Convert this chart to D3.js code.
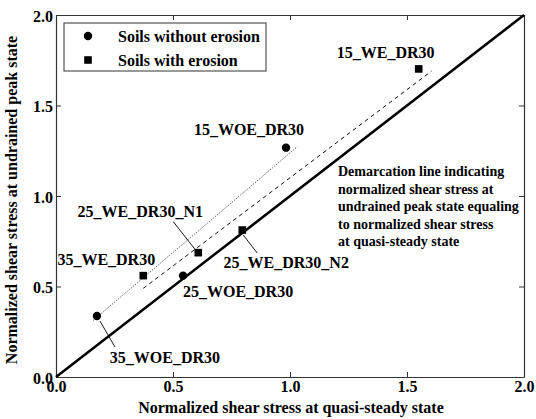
<!DOCTYPE html>
<html>
<head>
<meta charset="utf-8">
<script src="https://cdn.jsdelivr.net/npm/d3@7"></script>
<style>
  html, body { margin: 0; padding: 0; background: #fff; }
</style>
</head>
<body>
<svg id="chart" width="536" height="419"></svg>
<script>
// Specimen names and normalized shear stresses (quasi-steady x, undrained peak y)
const woeNames = ["35_WOE_DR30", "25_WOE_DR30", "15_WOE_DR30"];
const woeX = [0.175, 0.543, 0.983];
const woeY = [0.337, 0.560, 1.267];

const weNames = ["35_WE_DR30", "25_WE_DR30_N1", "25_WE_DR30_N2", "15_WE_DR30"];
const weX = [0.373, 0.608, 0.796, 1.550];
const weY = [0.560, 0.687, 0.812, 1.702];

// Trend lines: [x0, y0, x1, y1]
const woeTrend = [0.159, 0.313, 1.031, 1.272];
const weTrend = [0.373, 0.490, 1.605, 1.690];
// 1:1 demarcation line
const demarcation = [0, 0, 2, 2];

const tickValues = [0, 0.5, 1.0, 1.5, 2.0];
const tickLabels = ["0.0", "0.5", "1.0", "1.5", "2.0"];

const legendLabels = ["Soils without erosion", "Soils with erosion"];
const noteLines = [
  "Demarcation line indicating",
  "normalized shear stress at",
  "undrained peak state equaling",
  "to normalized shear stress",
  "at quasi-steady state"
];

// Label placement relative to each marker (pixels): text centre offset, optional leader line
const labelPlacement = {
  "35_WOE_DR30":   { dx: 68, dy: 47, lead: [3, 5, 18, 31] },
  "25_WOE_DR30":   { dx: 55, dy: 21 },
  "15_WOE_DR30":   { dx: -37, dy: -13 },
  "35_WE_DR30":    { dx: -37, dy: -11 },
  "25_WE_DR30_N1": { dx: -58, dy: -36, lead: [-25, -31, -3, -3] },
  "25_WE_DR30_N2": { dx: 44, dy: 38, lead: [1, 5, 15, 23] },
  "15_WE_DR30":    { dx: -33, dy: -11 }
};

const FONT = "Liberation Serif";
const serif = (sel, size) => sel
  .style("font-family", FONT).style("font-weight", "bold")
  .style("font-size", size + "px").attr("fill", "#000");

const svg = d3.select("#chart");
const margin = { left: 56, right: 12, top: 15, bottom: 42 };
const W = 536, H = 419;

const x = d3.scaleLinear().domain([0, 2]).range([margin.left, W - margin.right]);
const y = d3.scaleLinear().domain([0, 2]).range([H - margin.bottom, margin.top]);

const fmt = d => tickLabels[tickValues.indexOf(d)];

// Axes with inward ticks on all four sides
const frame = "#333";
const gB = svg.append("g").attr("transform", `translate(0,${y(0)})`)
  .call(d3.axisBottom(x).tickValues(tickValues).tickFormat(fmt).tickSizeInner(-5).tickSizeOuter(0).tickPadding(3));
const gT = svg.append("g").attr("transform", `translate(0,${y(2)})`)
  .call(d3.axisTop(x).tickValues(tickValues).tickFormat("").tickSizeInner(-5).tickSizeOuter(0));
const gL = svg.append("g").attr("transform", `translate(${x(0)},0)`)
  .call(d3.axisLeft(y).tickValues(tickValues).tickFormat(fmt).tickSizeInner(-5).tickSizeOuter(0).tickPadding(3));
const gR = svg.append("g").attr("transform", `translate(${x(2)},0)`)
  .call(d3.axisRight(y).tickValues(tickValues).tickFormat("").tickSizeInner(-5).tickSizeOuter(0));

[gB, gT, gL, gR].forEach(g => {
  g.select(".domain").attr("stroke", frame).attr("stroke-width", 1.2);
  g.selectAll(".tick line").attr("stroke", frame);
  serif(g.selectAll(".tick text"), 16);
});
gL.selectAll(".tick text").attr("dy", "0.4em");
gB.selectAll(".tick text").attr("dy", "0.75em");

// Axis titles
serif(svg.append("text"), 16)
  .attr("x", (x(0) + x(2)) / 2 + 1).attr("y", 413)
  .attr("text-anchor", "middle")
  .text("Normalized shear stress at quasi-steady state");
serif(svg.append("text"), 16)
  .attr("transform", `translate(17,${(y(0) + y(2)) / 2 + 4}) rotate(-90)`)
  .attr("text-anchor", "middle")
  .text("Normalized shear stress at undrained peak state");

// Demarcation (1:1) line
svg.append("line")
  .attr("x1", x(demarcation[0])).attr("y1", y(demarcation[1]))
  .attr("x2", x(demarcation[2])).attr("y2", y(demarcation[3]))
  .attr("stroke", "#000").attr("stroke-width", 2.5);

// Trend lines
svg.append("line")
  .attr("x1", x(woeTrend[0])).attr("y1", y(woeTrend[1]))
  .attr("x2", x(woeTrend[2])).attr("y2", y(woeTrend[3]))
  .attr("stroke", "#333").attr("stroke-width", 1).attr("stroke-dasharray", "1,1.5");
svg.append("line")
  .attr("x1", x(weTrend[0])).attr("y1", y(weTrend[1]))
  .attr("x2", x(weTrend[2])).attr("y2", y(weTrend[3]))
  .attr("stroke", "#111").attr("stroke-width", 1).attr("stroke-dasharray", "4,3.5");

// Build point records
const woePts = woeNames.map((n, i) => ({ name: n, x: woeX[i], y: woeY[i] }));
const wePts = weNames.map((n, i) => ({ name: n, x: weX[i], y: weY[i] }));

// Markers
svg.append("g").selectAll("circle").data(woePts).join("circle")
  .attr("cx", d => x(d.x)).attr("cy", d => y(d.y)).attr("r", 4.2).attr("fill", "#000");
const sq = 7.6;
svg.append("g").selectAll("rect").data(wePts).join("rect")
  .attr("x", d => x(d.x) - sq / 2).attr("y", d => y(d.y) - sq / 2)
  .attr("width", sq).attr("height", sq).attr("fill", "#000");

// Point labels with leader lines
const allPts = woePts.concat(wePts);
allPts.forEach(d => {
  const p = labelPlacement[d.name];
  const px = x(d.x), py = y(d.y);
  if (p.lead) {
    svg.append("line")
      .attr("x1", px + p.lead[0]).attr("y1", py + p.lead[1])
      .attr("x2", px + p.lead[2]).attr("y2", py + p.lead[3])
      .attr("stroke", "#000").attr("stroke-width", 0.9);
  }
  serif(svg.append("text"), 16)
    .attr("x", px + p.dx).attr("y", py + p.dy)
    .attr("text-anchor", "middle")
    .text(d.name);
});

// Note beside the demarcation line
serif(svg.append("g").selectAll("text").data(noteLines).join("text"), 14)
  .attr("x", 338).attr("y", (d, i) => 176 + i * 17.5)
  .text(d => d);

// Legend
const lg = svg.append("g");
lg.append("rect").attr("x", 64).attr("y", 23).attr("width", 202).attr("height", 48)
  .attr("fill", "#fff").attr("stroke", frame).attr("stroke-width", 1);
lg.append("circle").attr("cx", 88).attr("cy", 36).attr("r", 4.2).attr("fill", "#000");
lg.append("rect").attr("x", 88 - sq / 2).attr("y", 60 - sq / 2).attr("width", sq).attr("height", sq).attr("fill", "#000");
serif(lg.selectAll("text.leg").data(legendLabels).join("text").attr("class", "leg"), 16)
  .attr("x", 118).attr("y", (d, i) => 42 + i * 24)
  .text(d => d);
</script>
</body>
</html>
